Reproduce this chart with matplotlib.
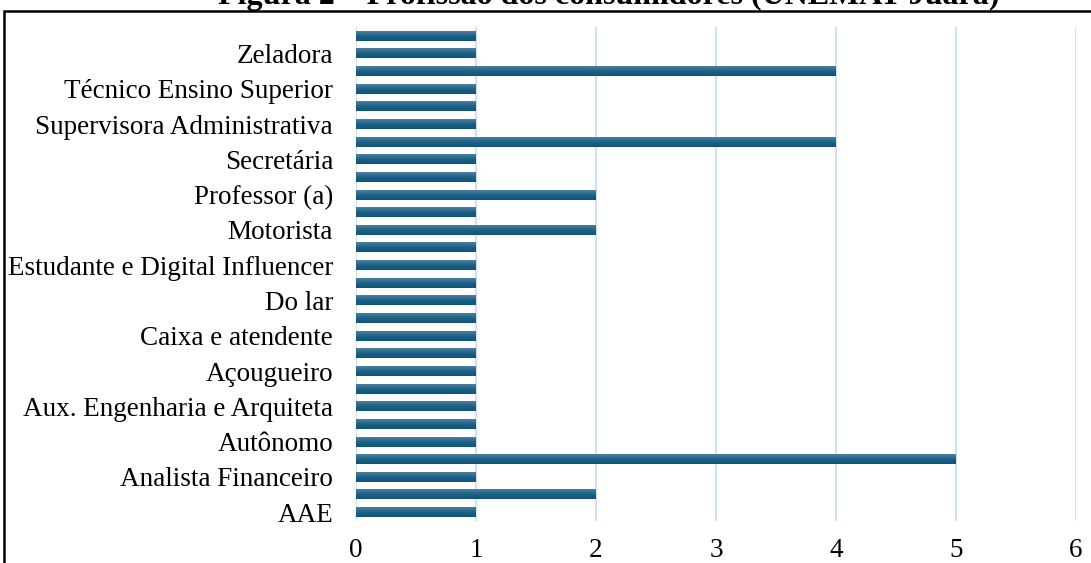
import numpy as np
import matplotlib.pyplot as plt
from matplotlib.colors import LinearSegmentedColormap
from matplotlib.patches import Rectangle

# Profissões (ordem do gráfico, de baixo para cima); só metade recebe rótulo visível
profissoes = [
    "AAE", "", "Analista Financeiro", "", "Autônomo", "",
    "Aux. Engenharia e Arquiteta", "", "Açougueiro", "", "Caixa e atendente", "",
    "Do lar", "", "Estudante e Digital Influencer", "", "Motorista", "",
    "Professor (a)", "", "Secretária", "", "Supervisora Administrativa", "",
    "Técnico Ensino Superior", "", "Zeladora", "",
]
quantidade = [
    1, 2, 1, 5, 1, 1, 1, 1, 1, 1, 1, 1, 1, 1,
    1, 1, 2, 1, 2, 1, 1, 4, 1, 1, 1, 4, 1, 1,
]
x_ticks = [0, 1, 2, 3, 4, 5, 6]

plt.rcParams['font.family'] = ['Liberation Serif', 'DejaVu Serif']

fig = plt.figure(figsize=(10.91, 5.63), dpi=100)
ax = fig.add_axes([0.3263, 0.0746, 0.6599, 0.8775])

# degradê vertical das barras (mais claro no topo)
grad = LinearSegmentedColormap.from_list('barra', ['#0f5379', '#1c6288', '#4f7f9d'])
gimg = np.linspace(0, 1, 32).reshape(-1, 1)
altura = 0.56
pos = np.arange(len(profissoes))
for y, v in zip(pos, quantidade):
    ax.imshow(gimg, cmap=grad, aspect='auto', interpolation='bilinear',
              extent=(0, v, y - altura / 2, y + altura / 2), origin='lower', zorder=3)

ax.set_xlim(0, 6)
ax.set_ylim(-0.5, len(profissoes) - 0.5)
ax.set_xticks(x_ticks)
ax.set_yticks(pos)
ax.set_yticklabels(profissoes)
ax.tick_params(axis='both', length=0, labelsize=19.5)
ax.tick_params(axis='y', pad=16.5)
ax.tick_params(axis='x', pad=12)
for s in ax.spines.values():
    s.set_visible(False)
ax.grid(axis='x', color='#cfe0f1', linewidth=1.5, zorder=0)
ax.set_axisbelow(True)

fig.text(0.558, 0.993, "Figura 2 – Profissão dos consumidores (UNEMAT Juara)",
         ha='center', va='baseline', fontsize=23, fontweight='bold')

# moldura do gráfico
fig.patches.append(Rectangle((0.004, -0.05), 1.2, 1.03, transform=fig.transFigure,
                             fill=False, edgecolor='black', linewidth=1.8))

fig.savefig('out.png', dpi=100)
